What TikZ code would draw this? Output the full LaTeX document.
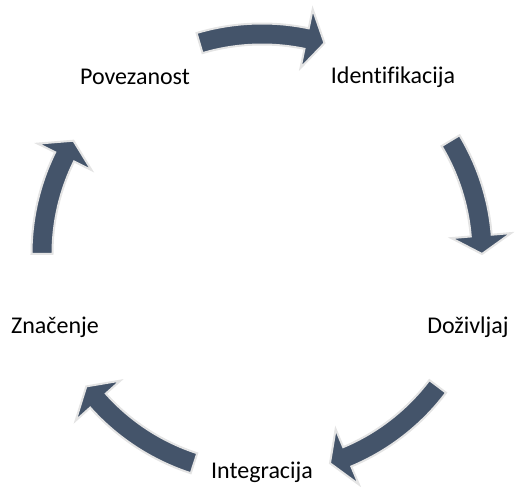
\documentclass[tikz,border=0pt]{standalone}
\usepackage{fontspec}
\setmainfont[Ligatures=NoCommon]{Carlito}
\usetikzlibrary{calc}
\definecolor{arrowfill}{HTML}{44546A}
\definecolor{arrowedge}{HTML}{E4E4E4}
\begin{document}
\begin{tikzpicture}[x=1pt,y=1pt,
  lbl/.style={font=\fontsize{24}{28}\selectfont, inner sep=0pt, anchor=center},
  cyc/.style={fill=arrowfill, draw=arrowedge, line width=2pt, line join=miter}]
\useasboundingbox (0,0) rectangle (515,487);
\coordinate (C) at (262,233);
% arrow: #1 tail angle, #2 tip angle
\def\R{220}\def\w{10.5}\def\h{30}\def\hl{4.8}
\newcommand{\cycarrow}[2]{%
  \pgfmathsetmacro{\ab}{#2+\hl}%
  \pgfmathsetmacro{\ro}{\R+\w}\pgfmathsetmacro{\ri}{\R-\w}%
  \pgfmathsetmacro{\rho}{\R+\h}\pgfmathsetmacro{\rhi}{\R-\h}%
  \filldraw[cyc] ($(C)+(#1:\ro)$) arc[start angle=#1, end angle=\ab, radius=\ro]
    -- ($(C)+(\ab:\rho)$) -- ($(C)+(#2:\R)$) -- ($(C)+(\ab:\rhi)$)
    -- ($(C)+(\ab:\ri)$) arc[start angle=\ab, end angle=#1, radius=\ri] -- cycle;}
\cycarrow{106.5}{73.5}
\cycarrow{31}{0}
\cycarrow{-37}{-72}
\cycarrow{-108}{-143}
\cycarrow{180}{149}
\node[lbl] (ident) at (393,410) {Identifikacija};
\node[lbl] (dozi) at (468,160) {Doživljaj};
\node[lbl] (integ) at (262,15) {Integracija};
\node[lbl] (znac) at (55,160) {Značenje};
\node[lbl] (poves) at (135,410) {Povezanost};
\end{tikzpicture}
\end{document}
